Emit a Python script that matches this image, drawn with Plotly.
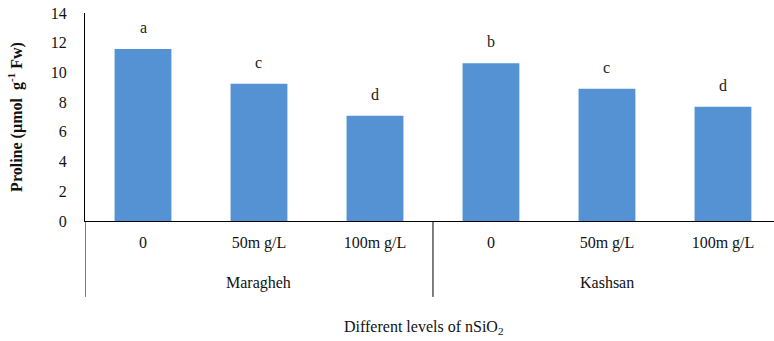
import plotly.graph_objects as go

categories = ["0", "50m g/L", "100m g/L", "0", "50m g/L", "100m g/L"]
groups = ["Maragheh", "Kashsan"]
values = [11.58, 9.24, 7.09, 10.61, 8.90, 7.69]
letters = ["a", "c", "d", "b", "c", "d"]

FONT = "Liberation Serif"
xs = list(range(len(values)))

fig = go.Figure()
fig.add_trace(go.Bar(
    x=xs, y=values, width=0.49,
    marker=dict(color="#5592d3", line=dict(width=0)),
    hoverinfo="skip",
))

for x, v, t in zip(xs, values, letters):
    fig.add_annotation(x=x, y=v, text=t, showarrow=False, yanchor="bottom",
                       yshift=11, font=dict(family=FONT, size=16, color="#222"))

# group labels and separators
for gi, g in enumerate(groups):
    fig.add_annotation(x=gi * 3 + 1, y=-0.298, xref="x", yref="paper", text=g,
                       showarrow=False, yanchor="middle",
                       font=dict(family=FONT, size=16, color="#111"))
for sx in [-0.5, 2.5]:
    fig.add_shape(type="line", xref="x", yref="paper", x0=sx, x1=sx, y0=0, y1=-0.365,
                  line=dict(color="black", width=1))

fig.add_annotation(x=0.492, y=-0.51, xref="paper", yref="paper",
                   text="Different levels of nSiO<sub>2</sub>", showarrow=False,
                   yanchor="middle", font=dict(family=FONT, size=16, color="#111"))

fig.update_layout(
    width=774, height=341,
    margin=dict(l=85, r=0, t=13, b=120),
    paper_bgcolor="white", plot_bgcolor="white",
    showlegend=False,
    font=dict(family=FONT, size=16, color="#111"),
    xaxis=dict(range=[-0.5, 5.44], tickvals=xs, ticktext=categories,
               showline=True, linecolor="black", linewidth=1, ticks="",
               showgrid=False, zeroline=False, ticklabelstandoff=7,
               tickfont=dict(family=FONT, size=16, color="#111"), fixedrange=True),
    yaxis=dict(range=[0, 14], dtick=2, showline=True, linecolor="black", linewidth=1,
               ticks="", showgrid=False, zeroline=False, ticklabelstandoff=14,
               tickfont=dict(family=FONT, size=16, color="#111"),
               title=dict(text="<b>Proline (µmol  g<sup>-1</sup> Fw)</b>",
                          font=dict(family=FONT, size=16, color="#111"), standoff=24),
               fixedrange=True),
)

fig.write_html("out.html", config={"displayModeBar": False},
               post_script="document.body.style.margin='0';")
